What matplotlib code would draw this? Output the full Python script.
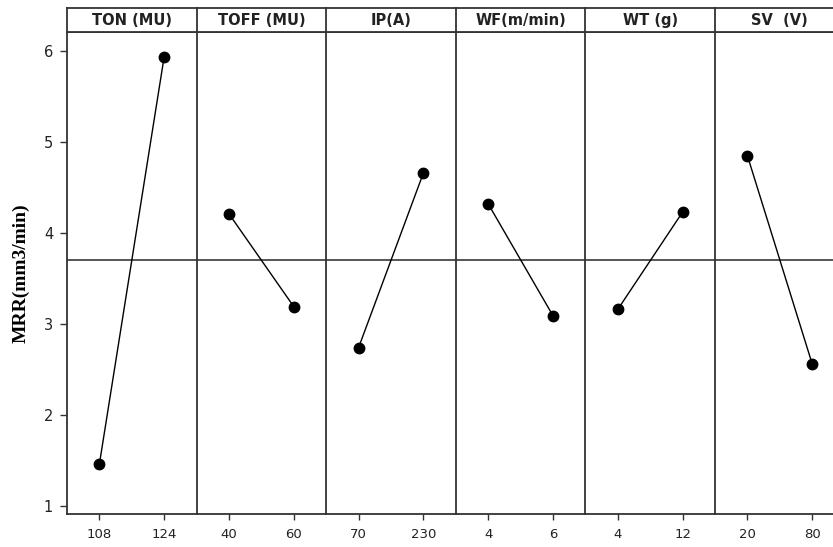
import matplotlib.pyplot as plt

# factor names, levels and mean MRR at each level
factors = ['TON (MU)', 'TOFF (MU)', 'IP(A)', 'WF(m/min)', 'WT (g)', 'SV  (V)']
levels = [['108', '124'], ['40', '60'], ['70', '230'], ['4', '6'], ['4', '12'], ['20', '80']]
means = [[1.46, 5.94], [4.21, 3.19], [2.74, 4.66], [4.32, 3.09], [3.16, 4.23], [4.85, 2.56]]
grand_mean = 3.70

W, H = 833, 547
fig = plt.figure(figsize=(W / 100, H / 100), dpi=100)

# panel geometry in pixels (last panel runs past the right edge, as in the source)
left_px, panel_w = 67, 129.6
top_px, bottom_px, head_top = 32, 514, 8
edge = '#333333'

for i, name in enumerate(factors):
    x0 = (left_px + i * panel_w) / W
    w = panel_w / W
    ax = fig.add_axes([x0, 1 - bottom_px / H, w, (bottom_px - top_px) / H])
    ax.axhline(grand_mean, color='#555555', lw=1.4, zorder=1)
    ax.plot([0, 1], means[i], color='black', lw=1, marker='o', markersize=7.5, zorder=3)
    ax.set_xlim(-0.5, 1.5)
    ax.set_ylim(0.91, 6.21)
    ax.set_xticks([0, 1])
    ax.set_xticklabels(levels[i], fontsize=9.5, color='#222222')
    ax.tick_params(axis='x', length=4, width=1, color=edge, pad=6)
    if i == 0:
        ax.set_yticks([1, 2, 3, 4, 5, 6])
        ax.tick_params(axis='y', length=5, width=1, color=edge, labelsize=10.5, labelcolor='#222222', pad=5)
        ax.set_ylabel('MRR(mm3/min)', fontname='Liberation Serif', fontweight='bold',
                      fontsize=14, labelpad=10)
    else:
        ax.set_yticks([])
    for s in ax.spines.values():
        s.set_color(edge)
        s.set_linewidth(1.3)
    if i < len(factors) - 1:
        ax.spines['right'].set_visible(False)

    # header strip with factor name
    hax = fig.add_axes([x0, 1 - top_px / H, w, (top_px - head_top) / H])
    hax.set_xticks([])
    hax.set_yticks([])
    for s in hax.spines.values():
        s.set_color(edge)
        s.set_linewidth(1.3)
    if i < len(factors) - 1:
        hax.spines['right'].set_visible(False)
    hax.text(0.5, 0.47, name, ha='center', va='center', fontsize=10.5, fontweight='bold',
             color='#222222', transform=hax.transAxes)

fig.savefig('out.png', dpi=100)
